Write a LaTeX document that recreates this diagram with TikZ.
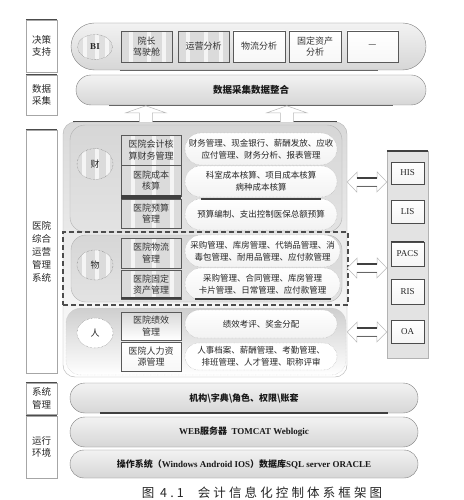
\documentclass[tikz,border=0pt]{standalone}
\usepackage{fontspec}
\setmainfont{Liberation Serif}
\newfontfamily\cjk{Noto Sans CJK SC}
\newfontfamily\lat{Liberation Serif}
\newfontfamily\capfont[LetterSpace=25]{Noto Sans CJK SC}
\usetikzlibrary{shapes.geometric,shapes.misc,calc}
\tikzset{
  lbl/.style={draw=gray!70, fill=white, minimum width=31, inner sep=0, align=center,
    font=\cjk\fontsize{9.5}{12.5}\selectfont, text=black!85},
  bigpill/.style={rounded rectangle, draw=black!50, top color=gray!10, bottom color=gray!32,
    inner sep=0, align=center, text=black!90},
  pill/.style={rounded rectangle, draw=gray!70, densely dotted, top color=white, bottom color=gray!10,
    inner sep=0, align=center, font=\cjk\fontsize{8.5}{12}\selectfont, text=black!85},
  stripes/.style={path picture={
    \foreach \f in {0.2,0.55,0.85}{
      \fill[white,opacity=0.7] ([xshift=-2pt]$(path picture bounding box.north west)!\f!(path picture bounding box.north east)$)
        rectangle ([xshift=2pt]$(path picture bounding box.south west)!\f!(path picture bounding box.south east)$);}}},
  boxs/.style={rectangle, draw=black!65, inner sep=0, align=center,
    font=\cjk\fontsize{9}{11.5}\selectfont, text=black!80},
  gbox/.style={boxs, fill=gray!28, stripes},
  wbox/.style={boxs, top color=white, bottom color=gray!6},
  circ/.style={ellipse, draw=black!60, densely dotted, inner sep=0, minimum width=36, minimum height=31,
    font=\cjk\fontsize{9}{11}\selectfont, text=black!85},
  panel/.style={rectangle, rounded corners=15, draw=gray!60, inner sep=0},
  hollow/.style={draw=gray!55, fill=white, line width=0.5},
  darkline/.style={line width=1.5, black!75},
  sbox/.style={rectangle, draw=black!70, top color=white, bottom color=gray!8, inner sep=0,
    minimum width=33, font=\lat\fontsize{9}{11}\selectfont, text=black!85},
}
\begin{document}
\begin{tikzpicture}[x=1pt,y=-1pt]
\useasboundingbox[fill=white] (0,0) rectangle (463,500);

% ---------- left labels ----------
\node[lbl, minimum height=52] (l1) at (41.5,46) {决策\\支持};
\node[lbl, minimum height=40] (l2) at (41.5,95) {数据\\采集};
\node[lbl, minimum height=243, font=\cjk\fontsize{9.5}{13}\selectfont] (l3) at (41.5,251.5) {医院\\综合\\运营\\管理\\系统};
\node[lbl, minimum height=31] (l4) at (41.5,398.5) {系统\\管理};
\node[lbl, minimum height=62] (l5) at (41.5,447) {运行\\环境};
\foreach \n in {l1,l2,l3,l4,l5}{\draw[line width=1.2, black!70] (\n.north west) -- (\n.north east);}

% ---------- decision support ----------
\node[bigpill, minimum width=355, minimum height=47] (dc) at (248.5,46.5) {};
\draw[line width=1, black!60] ($(dc.south west)+(25,0)$) -- ($(dc.south east)+(-25,0)$);
\node[circ, minimum width=35, minimum height=25, fill=gray!25, stripes, font=\lat\bfseries\fontsize{9}{11}\selectfont] (bi) at (95,47) {BI};
\node[gbox, minimum width=51, minimum height=31] (d1) at (146.5,46.5) {院长\\驾驶舱};
\node[gbox, minimum width=51, minimum height=31] (d2) at (203.5,46.5) {运营分析};
\node[wbox, minimum width=52, minimum height=31] (d3) at (259,46.5) {物流分析};
\node[wbox, minimum width=52, minimum height=31] (d4) at (315,46.5) {固定资产\\分析};
\node[wbox, minimum width=51, minimum height=31] (d5) at (372.5,46.5) {—};

% ---------- data collection ----------
\node[bigpill, minimum width=350, minimum height=30, font=\cjk\bfseries\fontsize{9.5}{12}\selectfont] (dp) at (251,90) {数据采集数据整合};
\draw[line width=1, black!60] ($(dp.south west)+(18,0)$) -- ($(dp.south east)+(-18,0)$);

% ---------- main system panel ----------
\node[panel, rounded corners=12, minimum width=284, minimum height=255, top color=gray!30, bottom color=white] (main) at (205,249.5) {};
\draw[line width=1.2, black!70] ($(main.north west)+(10,0)$) -- ($(main.north east)+(-10,0)$);

% up arrows from main panel to data collection
\foreach \dx in {83,224}{
  \draw[hollow] ($(main.north west)+(\dx-6.5,0)$) -- ++(0,-9) -- ++(-13.5,0) -- ++(20,-7) -- ++(20,7) -- ++(-13.5,0) -- ++(0,9);
}

% finance section
\node[panel, minimum width=272, minimum height=107, top color=gray!32, bottom color=gray!22] (cai) at (206,178.5) {};
% material section
\node[panel, minimum width=271, minimum height=67, top color=gray!32, bottom color=gray!22] (wu) at (206.5,268.5) {};
\node[rectangle, draw=black!70, dash pattern=on 5pt off 3pt, line width=1.2, minimum width=285, minimum height=73, inner sep=0] (wud) at (205.5,268.5) {};
% people section
\node[panel, minimum width=280, minimum height=67, top color=gray!38, middle color=gray!25, bottom color=white, draw=gray!50, densely dotted] (ren) at (206,341.5) {};

% circles
\node[circ, fill=gray!28, stripes] (ccai) at (95,164) {财};
\node[circ, fill=gray!28, stripes, minimum height=30] (cwu) at (95,265) {物};
\node[circ, fill=white, minimum height=30] (cren) at (95,333) {人};

% module boxes
\node[gbox, minimum width=60, minimum height=30] (b1) at (151,150) {医院会计核\\算财务管理};
\node[gbox, minimum width=60, minimum height=31] (b2) at (151,180.5) {医院成本\\核算};
\node[gbox, minimum width=60, minimum height=29] (b3) at (151,213.5) {医院预算\\管理};
\fill[black!75] ($(b2.south west)+(0,0)$) rectangle ($(b3.north east)$);
\draw[line width=2.5, black!75] (b2.south west) -- (b2.south east);
\node[gbox, minimum width=60, minimum height=30] (b4) at (151,253) {医院物流\\管理};
\node[gbox, minimum width=60, minimum height=29] (b5) at (151,284.5) {医院固定\\资产管理};
\draw[darkline] ($(b5.south west)+(0,-1)$) -- ($(b5.south east)+(0,-1)$);
\node[boxs, minimum width=60, minimum height=28, top color=gray!30, bottom color=white] (b6) at (151,326) {医院绩效\\管理};
\node[wbox, minimum width=60, minimum height=29] (b7) at (151,356.5) {医院人力资\\源管理};

% function pills
\node[pill, minimum width=152, minimum height=32] (p1) at (261,149) {财务管理、现金银行、薪酬发放、应收\\应付管理、财务分析、报表管理};
\node[pill, minimum width=152, minimum height=31] (p2) at (261,181.5) {科室成本核算、项目成本核算\\病种成本核算};
\node[pill, minimum width=152, minimum height=31] (p3) at (261,214.5) {预算编制、支出控制医保总额预算};
\draw[darkline] ($(p3.north)+(-60,0)$) -- ($(p3.north)+(60,0)$);
\node[pill, minimum width=155, minimum height=32] (p4) at (262.5,251) {采购管理、库房管理、代销品管理、消\\毒包管理、耐用品管理、应付款管理};
\node[pill, minimum width=155, minimum height=32] (p5) at (262.5,284) {采购管理、合同管理、库房管理\\卡片管理、日常管理、应付款管理};
\draw[darkline] ($(p5.south)+(-68,-1)$) -- ($(p5.south)+(68,-1)$);
\node[pill, minimum width=152, minimum height=28] (p6) at (261,324) {绩效考评、奖金分配};
\node[pill, minimum width=152, minimum height=27, top color=white, bottom color=white] (p7) at (261,356.5) {人事档案、薪酬管理、考勤管理、\\排班管理、人才管理、职称评审};

% ---------- right panel ----------
\node[rectangle, draw=gray!60, fill=gray!22, minimum width=41, minimum height=207, inner sep=0] (rp) at (407.5,254.5) {};
\draw[line width=1.5, black!75] (rp.north west) -- (rp.north east);
\node[sbox, minimum height=22] (his) at (407.5,173) {HIS};
\node[sbox, minimum height=23] (lis) at (407.5,211.5) {LIS};
\node[sbox, minimum height=24] (pacs) at (407.5,254) {PACS};
\draw[line width=1.2, black!75] (pacs.north west) -- (pacs.north east);
\node[sbox, minimum height=25] (ris) at (407.5,291.5) {RIS};
\node[sbox, minimum height=23] (oa) at (407.5,331.5) {OA};

% double arrows between main panel and right panel
\foreach \yy in {182,268,332}{
  \draw[hollow] (main.east |- 0,\yy) -- ++(10,-10) -- ++(0,6) -- ++(20,0) -- ++(0,-6) -- (rp.west |- 0,\yy)
     -- ++(-10,10) -- ++(0,-6) -- ++(-20,0) -- ++(0,6) -- cycle;
  \draw[line width=1.4, black!75] ($(main.east |- 0,\yy)+(10,-4)$) -- ++(20,0);
  \draw[line width=0.6, black!60] ($(main.east |- 0,\yy)+(10,4)$) -- ++(20,0);
}

% ---------- bottom layers ----------
\node[bigpill, minimum width=348, minimum height=30, font=\cjk\bfseries\fontsize{9}{11}\selectfont] (sys) at (244,398) {机构\textbackslash 字典\textbackslash 角色、权限\textbackslash 账套};
\draw[line width=1.5, black!75] ($(sys.south west)+(15,0)$) -- ($(sys.south east)+(-15,0)$);
\node[bigpill, minimum width=348, minimum height=30, font=\lat\bfseries\fontsize{9}{11}\selectfont] (web) at (244,432) {WEB{\cjk 服务器}\ \ TOMCAT Weblogic};
\node[bigpill, minimum width=348, minimum height=28, font=\lat\bfseries\fontsize{9}{11}\selectfont] (os) at (244,464) {{\cjk 操作系统（}Windows Android IOS{\cjk ）数据库}SQL server ORACLE};

% ---------- caption ----------
\node[inner sep=0, font=\capfont\fontsize{12.5}{14}\selectfont, text=black!85] (cap) at (262,493) {图 4.1\hspace{14pt}会计信息化控制体系框架图};
\end{tikzpicture}
\end{document}
